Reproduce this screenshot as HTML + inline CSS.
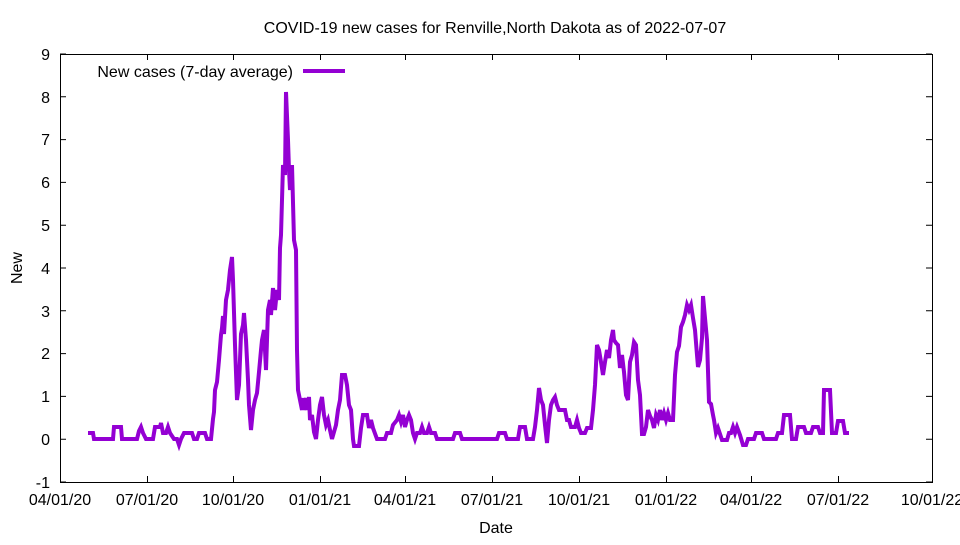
<!DOCTYPE html>
<html><head><meta charset="utf-8"><style>
body{margin:0;background:#fff}
svg text{font-family:"Liberation Sans",sans-serif;font-size:16px;fill:#000}
</style></head><body>
<svg width="960" height="540" xmlns="http://www.w3.org/2000/svg">
<rect width="960" height="540" fill="#fff"/>
<text x="495" y="33" text-anchor="middle">COVID-19 new cases for Renville,North Dakota as of 2022-07-07</text>
<g stroke="#000" stroke-width="1" fill="none">
<rect x="60.5" y="54.5" width="872" height="428"/>
<path d="M60 439.2h6M932 439.2h-6M60 396.4h6M932 396.4h-6M60 353.6h6M932 353.6h-6M60 310.8h6M932 310.8h-6M60 268h6M932 268h-6M60 225.2h6M932 225.2h-6M60 182.4h6M932 182.4h-6M60 139.6h6M932 139.6h-6M60 96.8h6M932 96.8h-6M60 482h6M932 482h-6M60 54h6M932 54h-6"/>
<path d="M60.5 482v-6M147.5 482v-6M233.5 482v-6M320.5 482v-6M405.5 482v-6M492.5 482v-6M579.5 482v-6M666.5 482v-6M751.5 482v-6M838.5 482v-6M932.5 482v-6M60.5 54v6M147.5 54v6M233.5 54v6M320.5 54v6M405.5 54v6M492.5 54v6M579.5 54v6M666.5 54v6M751.5 54v6M838.5 54v6M932.5 54v6"/>
</g>
<g text-anchor="end">
<text x="50" y="488">-1</text><text x="50" y="445">0</text><text x="50" y="402">1</text><text x="50" y="359">2</text><text x="50" y="317">3</text><text x="50" y="274">4</text><text x="50" y="231">5</text><text x="50" y="188">6</text><text x="50" y="145">7</text><text x="50" y="103">8</text><text x="50" y="60">9</text>
</g>
<g text-anchor="middle">
<text x="60" y="505">04/01/20</text><text x="147" y="505">07/01/20</text><text x="233" y="505">10/01/20</text><text x="320" y="505">01/01/21</text><text x="405" y="505">04/01/21</text><text x="492" y="505">07/01/21</text><text x="579" y="505">10/01/21</text><text x="666" y="505">01/01/22</text><text x="751" y="505">04/01/22</text><text x="838" y="505">07/01/22</text><text x="932" y="505">10/01/22</text>
<text x="496" y="533">Date</text>
</g>
<text x="22" y="268" text-anchor="middle" transform="rotate(-90 22 268)">New</text>
<text x="293" y="77" text-anchor="end">New cases (7-day average)</text>
<line x1="303" y1="71" x2="345" y2="71" stroke="#9400d3" stroke-width="4"/>
<polyline fill="none" stroke="#9400d3" stroke-width="4" stroke-linejoin="miter" points="88,433 93,433 94,439 113,439 114,427 121,427 122,439 137,439 139,431 141,427 143,433 146,439 153,439 155,427 160,427 161,423 163,433 166,433 168,427 170,433 174,439 177,439 179,445 181,439 184,433 192,433 194,439 197,439 199,433 205,433 207,439 211,439 213,419 214,412 215,390 217,382 219,360 221,335 222,328 223,316 224,334 226,300 228,290 230,270 232,257 233,280 235,345 237,400 239,385 241,334 243,325 244,313 246,340 248,380 249,405 251,430 253,410 255,400 257,393 259,372 261,350 262,340 264,330 266,370 268,310 270,300 271,315 273,288 275,310 277,290 279,300 280,248 281,235 283,165 285,175 286,92 288,140 289,170 290,190 292,165 294,240 296,250 297,350 298,390 299,395 300,400 302,410 303,398 304,410 306,398 307,410 309,397 310,420 312,415 314,432 316,439 318,420 320,405 322,397 324,415 326,425 328,420 330,430 332,439 334,432 336,425 338,410 340,400 342,375 345,375 347,385 349,405 351,410 353,439 354,446 359,446 361,428 363,415 367,415 369,428 371,420 373,428 377,439 385,439 387,433 391,433 393,425 397,420 399,415 401,422 403,415 405,427 407,420 409,415 411,420 413,433 415,439 417,433 420,433 422,427 424,433 427,433 429,427 431,433 435,433 437,439 453,439 455,433 460,433 462,439 497,439 499,433 505,433 507,439 518,439 520,427 525,427 527,439 533,439 535,427 537,410 539,388 541,400 543,405 545,425 547,443 549,420 551,405 553,400 555,397 557,405 559,410 565,410 567,420 569,420 571,427 575,427 577,420 579,428 581,433 585,433 587,428 591,428 593,410 595,385 597,345 599,350 601,362 603,375 605,362 607,350 609,358 611,340 613,330 614,340 616,343 618,345 620,368 622,355 624,372 626,395 628,400 630,362 632,355 634,342 636,345 638,380 640,395 642,434 644,434 646,427 648,410 650,416 652,420 654,428 656,415 658,420 660,410 662,420 664,413 666,420 668,413 670,420 673,420 675,375 677,352 679,346 681,327 683,322 685,315 687,305 689,310 691,305 693,318 695,330 697,355 698,367 700,360 702,338 703,296 705,318 707,340 709,402 711,404 713,415 714,420 716,433 718,428 720,434 722,440 727,440 729,433 731,433 733,427 735,433 737,427 740,435 743,445 746,445 748,439 754,439 756,433 762,433 764,439 776,439 778,433 782,433 784,415 790,415 792,439 796,439 798,427 804,427 806,433 811,433 813,427 818,427 820,433 823,433 824,390 830,390 832,433 836,433 838,421 843,421 845,433 849,433"/>
</svg>
</body></html>
